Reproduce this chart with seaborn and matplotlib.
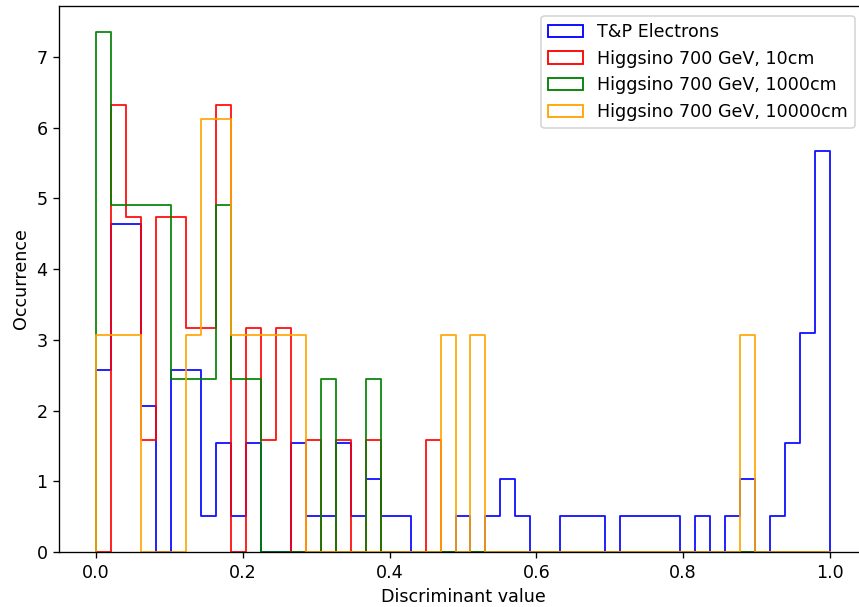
import numpy as np
import pandas as pd
import matplotlib
matplotlib.use("Agg")
import matplotlib.pyplot as plt
from matplotlib.patches import Patch
import seaborn as sns

# ---- data: per-bin counts, 49 equal bins on [0, 1] ----
n_bins = 49
bin_range = (0.0, 1.0)

labels = ["T&P Electrons",
          "Higgsino 700 GeV, 10cm",
          "Higgsino 700 GeV, 1000cm",
          "Higgsino 700 GeV, 10000cm"]
colors = ["blue", "red", "green", "orange"]

tp_electrons = [5, 9, 9, 4, 0, 5, 5, 1, 3, 1,
                3, 0, 0, 3, 1, 1, 3, 1, 2, 1,
                1, 0, 0, 0, 1, 0, 1, 2, 1, 0,
                0, 1, 1, 1, 0, 1, 1, 1, 1, 0,
                1, 0, 1, 2, 0, 1, 3, 6, 11]
higgsino_10cm = [0, 4, 3, 1, 3, 3, 2, 2, 4, 0,
                 2, 1, 2, 0, 1, 0, 1, 0, 1, 0,
                 0, 0, 1, 0, 0, 0, 0, 0, 0, 0,
                 0, 0, 0, 0, 0, 0, 0, 0, 0, 0,
                 0, 0, 0, 0, 0, 0, 0, 0, 0]
higgsino_1000cm = [3, 2, 2, 2, 2, 1, 1, 1, 2, 1,
                   1, 0, 0, 0, 0, 1, 0, 0, 1, 0,
                   0, 0, 0, 0, 0, 0, 0, 0, 0, 0,
                   0, 0, 0, 0, 0, 0, 0, 0, 0, 0,
                   0, 0, 0, 0, 0, 0, 0, 0, 0]
higgsino_10000cm = [1, 1, 1, 0, 0, 0, 1, 2, 2, 1,
                    1, 1, 1, 1, 0, 0, 0, 0, 0, 0,
                    0, 0, 0, 1, 0, 1, 0, 0, 0, 0,
                    0, 0, 0, 0, 0, 0, 0, 0, 0, 0,
                    0, 0, 0, 1, 0, 0, 0, 0, 0]

series = [tp_electrons, higgsino_10cm, higgsino_1000cm, higgsino_10000cm]

plt.rcParams["font.family"] = ["DejaVu Sans"]
plt.rcParams["font.size"] = 10.5

# ---- figure ----
W, H, DPI = 859, 607, 120
fig = plt.figure(figsize=(W / DPI, H / DPI), dpi=DPI)
ax = fig.add_axes([59.3 / W, (H - 552) / H, (866.7 - 59.3) / W, (552 - 6) / H])

bin_edges = np.linspace(bin_range[0], bin_range[1], n_bins + 1)
centers = (bin_edges[:-1] + bin_edges[1:]) / 2
for counts, color in zip(series, colors):
    df = pd.DataFrame({"x": centers, "w": np.asarray(counts, dtype=float)})
    sns.histplot(data=df, x="x", weights="w", bins=n_bins, binrange=bin_range,
                 stat="density", element="step", fill=False, color=color,
                 linewidth=1.1, alpha=0.92, ax=ax)
    line = ax.lines[-1]
    xs, ys = line.get_data()
    xs = np.asarray(xs, dtype=float)
    ys = np.asarray(ys, dtype=float)
    line.set_data(np.r_[xs[0], xs, xs[-1]], np.r_[0.0, ys, 0.0])

ax.set_xlim(-0.05, 1.05)
ax.set_ylim(0, 7.7175)
ax.set_xticks([0.0, 0.2, 0.4, 0.6, 0.8, 1.0])
ax.set_xticklabels(["0.0", "0.2", "0.4", "0.6", "0.8", "1.0"])
ax.set_yticks(range(0, 8))
ax.set_xlabel("Discriminant value")
ax.set_ylabel("Occurrence")
ax.spines["right"].set_visible(False)

handles = [Patch(facecolor="none", edgecolor=c, linewidth=1.1) for c in colors]
ax.legend(handles, labels, loc="upper right",
          bbox_to_anchor=(0.9855, 0.9817), borderaxespad=0)

fig.savefig("out.png", dpi=DPI)
